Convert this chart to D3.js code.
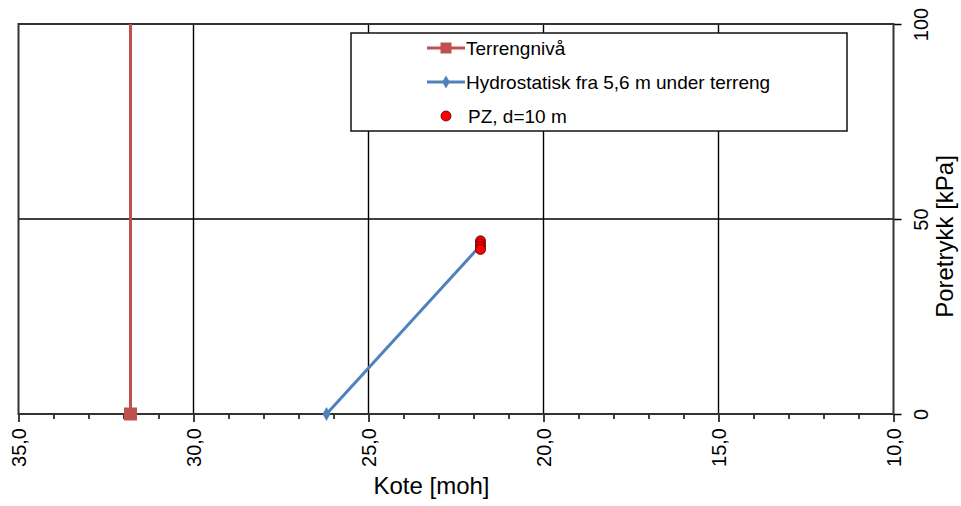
<!DOCTYPE html>
<html><head><meta charset="utf-8">
<script src="https://cdn.jsdelivr.net/npm/d3@7/dist/d3.min.js"></script>
<style>body{margin:0;background:#fff}svg{display:block}text{font-family:"Liberation Sans",Arial,sans-serif}</style>
</head><body>
<svg id="c" width="961" height="506"></svg>
<script>
const xTicks = [35, 30, 25, 20, 15, 10];
const yTicks = [0, 50, 100];
const terrengKote = [31.8, 31.8];
const terrengTrykk = [0, 150];
const hydroKote = [26.2, 21.8];
const hydroTrykk = [0, 43.2];
const pzKote = [21.8, 21.8, 21.8, 21.8];
const pzTrykk = [44.4, 43.6, 42.9, 42.2];
const legendLabels = ["Terrengnivå", "Hydrostatisk fra 5,6 m under terreng", "PZ, d=10 m"];

const svg = d3.select("#c");
const L = 18.5, R = 893.5, T = 24, B = 414;
const x = d3.scaleLinear().domain([35, 10]).range([L, R]);
const y = d3.scaleLinear().domain([0, 100]).range([B, T]);
const fmt = d => d.toFixed(1).replace(".", ",");

svg.append("defs").append("clipPath").attr("id", "clip")
  .append("rect").attr("x", L).attr("y", T).attr("width", R - L).attr("height", B - T);

// grid
const g = svg.append("g");
g.selectAll(".vg").data(xTicks.slice(1, -1)).join("line")
  .attr("x1", d => x(d)).attr("x2", d => x(d)).attr("y1", T).attr("y2", B)
  .attr("stroke", "#000").attr("stroke-width", 1.4);
g.selectAll(".hg").data([50]).join("line")
  .attr("x1", L).attr("x2", R).attr("y1", d => y(d)).attr("y2", d => y(d))
  .attr("stroke", "#000").attr("stroke-width", 1.4);

// x axis
const xAxis = d3.axisBottom(x).tickValues(d3.range(10, 36, 1)).tickSize(6).tickFormat(d => xTicks.includes(d) ? fmt(d) : "");
const xa = svg.append("g").attr("transform", `translate(0,${B})`).call(xAxis);
xa.select(".domain").remove();
xa.selectAll(".tick line").attr("stroke", "#000").attr("stroke-width", 1.5).attr("y2", d => xTicks.includes(d) ? 8 : 5);
xa.selectAll(".tick text").attr("font-size", 20).attr("fill", "#000")
  .attr("transform", "rotate(-90)").attr("x", -14).attr("y", 0).attr("dy", "0.35em")
  .attr("text-anchor", "end");

// y axis right
const yAxis = d3.axisRight(y).tickValues(yTicks).tickSize(8).tickFormat(d => d);
const ya = svg.append("g").attr("transform", `translate(${R},0)`).call(yAxis);
ya.select(".domain").remove();
ya.selectAll(".tick line").attr("stroke", "#000").attr("stroke-width", 1.5);
ya.selectAll(".tick text").attr("font-size", 20).attr("fill", "#000")
  .attr("transform", "rotate(-90)").attr("x", 0).attr("y", 27).attr("dy", "0.35em")
  .attr("text-anchor", "middle");

// border
svg.append("rect").attr("x", L).attr("y", T).attr("width", R - L).attr("height", B - T)
  .attr("fill", "none").attr("stroke", "#333").attr("stroke-width", 2);

// titles
svg.append("text").attr("x", 431.5).attr("y", 494).attr("text-anchor", "middle")
  .attr("font-size", 24).attr("fill", "#000").text("Kote [moh]");
svg.append("text").attr("transform", `translate(953,236.5) rotate(-90)`).attr("text-anchor", "middle")
  .attr("font-size", 24).attr("fill", "#000").text("Poretrykk [kPa]");

const line = d3.line().x(d => x(d[0])).y(d => y(d[1]));
const red = "#C0504D", blue = "#4F81BD";
const plot = svg.append("g").attr("clip-path", "url(#clip)");

const terr = terrengKote.map((k, i) => [k, terrengTrykk[i]]);
plot.append("path").attr("d", line(terr)).attr("fill", "none").attr("stroke", red).attr("stroke-width", 3);
const hyd = hydroKote.map((k, i) => [k, hydroTrykk[i]]);
plot.append("path").attr("d", line(hyd)).attr("fill", "none").attr("stroke", blue).attr("stroke-width", 3);

// markers (not clipped)
const mk = svg.append("g");
mk.selectAll(".sq").data(terr.filter(d => d[1] <= 100)).join("rect")
  .attr("x", d => x(d[0]) - 6.5).attr("y", d => y(d[1]) - 6.5).attr("width", 13).attr("height", 13).attr("fill", red);
mk.selectAll(".dm").data(hyd).join("path")
  .attr("d", d3.symbol(d3.symbolDiamond, 55)())
  .attr("transform", d => `translate(${x(d[0])},${y(d[1])})`).attr("fill", blue);
const pz = pzKote.map((k, i) => [k, pzTrykk[i]]);
mk.selectAll(".pz").data(pz).join("circle")
  .attr("cx", d => x(d[0])).attr("cy", d => y(d[1])).attr("r", 5)
  .attr("fill", "#FF0000").attr("stroke", "#400").attr("stroke-width", 0.8);

// legend
const lg = svg.append("g");
lg.append("rect").attr("x", 351).attr("y", 33).attr("width", 496).attr("height", 98)
  .attr("fill", "#fff").attr("stroke", "#111").attr("stroke-width", 1.5);
const ly = [48, 82, 116];
const lx0 = 427, lx1 = 465, lt = 466;
lg.append("line").attr("x1", lx0).attr("x2", lx1).attr("y1", ly[0]).attr("y2", ly[0]).attr("stroke", red).attr("stroke-width", 3);
lg.append("rect").attr("x", (lx0 + lx1) / 2 - 5.5).attr("y", ly[0] - 5.5).attr("width", 11).attr("height", 11).attr("fill", red);
lg.append("line").attr("x1", lx0).attr("x2", lx1).attr("y1", ly[1]).attr("y2", ly[1]).attr("stroke", blue).attr("stroke-width", 3);
lg.append("path").attr("d", d3.symbol(d3.symbolDiamond, 50)()).attr("transform", `translate(${(lx0 + lx1) / 2},${ly[1]})`).attr("fill", blue);
lg.append("circle").attr("cx", 446).attr("cy", ly[2]).attr("r", 5).attr("fill", "#FF0000").attr("stroke", "#400").attr("stroke-width", 0.8);
lg.selectAll(".lt").data(legendLabels).join("text")
  .attr("x", (d, i) => i === 2 ? lt + 2 : lt).attr("y", (d, i) => ly[i]).attr("dy", "0.35em")
  .attr("font-size", 19).attr("fill", "#000").text(d => d);
</script>
</body></html>
